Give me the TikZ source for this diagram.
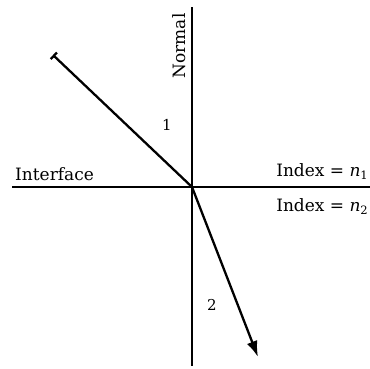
\documentclass[tikz,border=0pt]{standalone}
\usepackage{fontspec}
\setmainfont{DejaVu Serif}
\usetikzlibrary{arrows.meta}
\newcommand{\subidx}[1]{\textit{n}\raisebox{-0.35ex}{\fontsize{11.5}{12}\selectfont #1}}
\begin{document}
\begin{tikzpicture}[x=1pt,y=1pt,
  axis/.style={line width=2.4pt},
  ray/.style={line width=2.3pt},
  lbl/.style={font=\fontsize{17}{19}\selectfont, inner sep=0pt},
  num/.style={font=\fontsize{15}{16}\selectfont, inner sep=0pt}]
\useasboundingbox (0,0) rectangle (370,368);
\coordinate (C) at (192,181);
\coordinate (top) at (192,361);
\coordinate (bot) at (192,2);
\coordinate (left) at (12,181);
\coordinate (right) at (370,181);
\coordinate (S) at (53,313);
\coordinate (E) at (258,11);
\draw[axis] (top) -- (bot);
\draw[axis] (left) -- (right);
\draw[ray, {Bar[width=9pt,line width=2.3pt]}-] (S) -- (C);
\draw[ray, -{Latex[length=16pt,width=11pt]}] (C) -- (E);
\node[lbl, rotate=90] (normal) at (179,322) {Normal};
\node[lbl, anchor=base west] (iface) at (15,188) {Interface};
\node[lbl, anchor=base east] (n1) at (368,192) {Index = \subidx{1}};
\node[lbl, anchor=base east] (n2) at (368,157) {Index = \subidx{2}};
\node[num] (one) at (167,243) {1};
\node[num] (two) at (212,63) {2};
\end{tikzpicture}
\end{document}
